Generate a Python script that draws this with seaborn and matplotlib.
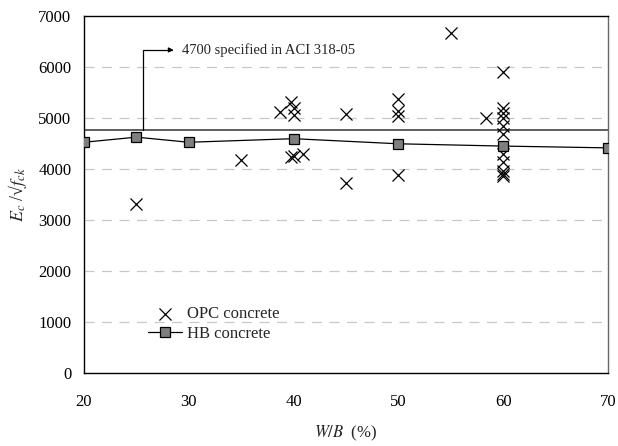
import matplotlib
matplotlib.use("Agg")
import matplotlib.pyplot as plt
import seaborn as sns
import pandas as pd

# ---- data ----
opc_wb = [25, 35, 38.7, 39.8, 40.0, 40.0, 39.8, 40.0, 40.9, 45, 45,
          50, 50, 50, 50, 55, 58.4,
          60, 60, 60, 60, 60, 60, 60, 60, 60, 60, 60]
opc_ec = [3320, 4176, 5130, 5310, 5210, 5070, 4250, 4260, 4300, 5080, 3740,
          5370, 5140, 5045, 3890, 6680, 5010,
          5900, 5210, 5110, 5010, 4850, 4690, 4290, 4140, 3960, 3900, 3860]
hb_wb = [20, 25, 30, 40, 50, 60, 70]
hb_ec = [4530, 4630, 4530, 4600, 4500, 4455, 4420]
aci_value = 4770
aci_label = "4700 specified in ACI 318-05"
x_ticks = [20, 30, 40, 50, 60, 70]
y_ticks = [0, 1000, 2000, 3000, 4000, 5000, 6000, 7000]

sns.set_style("white")
plt.rcParams["font.family"] = ["Liberation Serif", "DejaVu Serif"]
plt.rcParams["mathtext.fontset"] = "stix"

fig = plt.figure(figsize=(6.18, 4.46), dpi=100)
ax = fig.add_axes([0.1359, 0.163, 0.8479, 0.8005])

for yv in y_ticks[1:-1]:
    ax.axhline(yv, color="#c8c8c8", lw=0.9, ls=(0, (8, 6)), zorder=0)

ax.axhline(aci_value, color="#444444", lw=1.2, zorder=1)

opc = pd.DataFrame({"wb": opc_wb, "ec": opc_ec})
hb = pd.DataFrame({"wb": hb_wb, "ec": hb_ec})

sns.scatterplot(data=opc, x="wb", y="ec", marker="x", s=75, color="black",
                linewidth=0.9, ax=ax, label="OPC concrete", zorder=3)
sns.lineplot(data=hb, x="wb", y="ec", color="black", lw=0.9, marker="s",
             markersize=7, markerfacecolor="#7f7f7f", markeredgecolor="black",
             markeredgewidth=0.9, ax=ax, label="HB concrete", zorder=4)

ax.annotate(aci_label, xy=(25.6, aci_value), xytext=(29.4, 6340),
            fontsize=10.5, va="center", ha="left",
            arrowprops=dict(arrowstyle="<|-", color="black", lw=0.9,
                            connectionstyle="angle,angleA=0,angleB=90,rad=0",
                            shrinkA=4, shrinkB=0, mutation_scale=7))

ax.set_xlim(20, 70)
ax.set_ylim(0, 7000)
ax.set_xticks(x_ticks)
ax.set_yticks(y_ticks)
ax.tick_params(axis="both", direction="in", length=4, width=0.8,
               labelsize=12, colors="black")
ax.tick_params(axis="x", pad=15)
ax.tick_params(axis="y", pad=9)

for side in ["left", "bottom", "top"]:
    ax.spines[side].set_color("black")
    ax.spines[side].set_linewidth(1.0)
ax.spines["right"].set_color("#666666")
ax.spines["right"].set_linewidth(1.0)

ax.set_xlabel(r"$W/B$  (%)", fontsize=12, labelpad=10)
ax.set_ylabel(r"$E_c$ /√$f_{ck}$", fontsize=13, labelpad=7)

leg = ax.legend(loc="lower left", bbox_to_anchor=(0.11, 0.07), frameon=False,
                fontsize=12, handlelength=2.0, handletextpad=0.3,
                labelspacing=0.2, borderaxespad=0)

fig.savefig("out.png", dpi=100)
